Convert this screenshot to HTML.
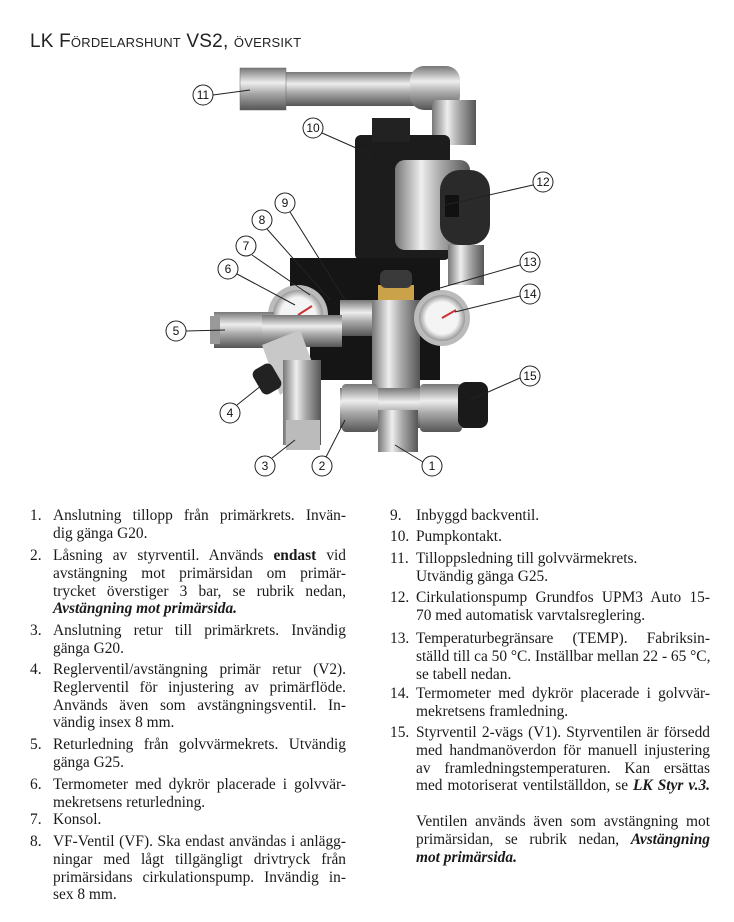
<!DOCTYPE html>
<html><head><meta charset="utf-8"><style>
body{margin:0;background:#fff;width:734px;height:922px;position:relative;overflow:hidden;font-family:"Liberation Serif",serif;color:#1a1a1a}
.t{position:absolute;left:30px;top:31px;font-family:"Liberation Sans",sans-serif;font-size:19px;font-variant:small-caps;letter-spacing:0.2px;color:#222}
.it{position:absolute;font-size:15.4px;line-height:17.8px}
.it .n{position:absolute;left:0;top:0}
.it .l{display:block;text-align:justify;text-align-last:justify;white-space:nowrap}
.it .l.e{text-align-last:left}
.L{left:30px}.L .b{margin-left:23px;width:293px}
.R{left:390px}.R .b{margin-left:26px;width:294px}
svg{position:absolute;left:0;top:0}
</style></head><body>
<div class="t">LK Fördelarshunt VS2, översikt</div>
<svg width="734" height="490" viewBox="0 0 734 490">
<defs>
<linearGradient id="hp" x1="0" y1="0" x2="0" y2="1"><stop offset="0" stop-color="#777"/><stop offset=".35" stop-color="#eee"/><stop offset=".6" stop-color="#aaa"/><stop offset="1" stop-color="#555"/></linearGradient>
<linearGradient id="vp" x1="0" y1="0" x2="1" y2="0"><stop offset="0" stop-color="#777"/><stop offset=".35" stop-color="#eee"/><stop offset=".6" stop-color="#aaa"/><stop offset="1" stop-color="#555"/></linearGradient>
<radialGradient id="ga"><stop offset=".7" stop-color="#f4f4f4"/><stop offset="1" stop-color="#999"/></radialGradient>
</defs>
<rect x="240" y="72" width="200" height="34" fill="url(#hp)"/>
<rect x="240" y="68" width="46" height="42" fill="url(#hp)" stroke="#666" stroke-width=".5"/>
<rect x="410" y="66" width="50" height="44" rx="14" fill="url(#hp)"/>
<rect x="432" y="100" width="44" height="45" fill="url(#vp)"/>
<rect x="355" y="135" width="95" height="125" rx="6" fill="#1c1c1c"/>
<rect x="372" y="118" width="38" height="24" fill="#222"/>
<rect x="395" y="160" width="75" height="90" rx="10" fill="url(#vp)"/>
<rect x="440" y="170" width="50" height="75" rx="20" fill="#2a2a2a"/>
<rect x="445" y="195" width="14" height="22" fill="#111"/>
<rect x="448" y="245" width="36" height="40" fill="url(#vp)"/>
<path d="M290 258 L440 258 L440 380 L310 380 L310 345 L290 345 Z" fill="#151515"/>
<rect x="378" y="285" width="36" height="20" fill="#c9a24a"/>
<rect x="380" y="270" width="32" height="18" rx="6" fill="#3a3a3a"/>
<rect x="340" y="300" width="120" height="36" fill="url(#hp)"/>
<rect x="372" y="300" width="48" height="100" fill="url(#vp)"/>
<circle cx="298" cy="315" r="30" fill="#bbb"/><circle cx="298" cy="315" r="25" fill="url(#ga)"/>
<line x1="298" y1="315" x2="312" y2="306" stroke="#c33" stroke-width="2"/>
<circle cx="442" cy="318" r="28" fill="#bbb"/><circle cx="442" cy="318" r="23" fill="url(#ga)"/>
<line x1="442" y1="318" x2="456" y2="310" stroke="#c33" stroke-width="2"/>
<rect x="214" y="312" width="60" height="36" fill="url(#hp)"/>
<rect x="210" y="316" width="10" height="28" fill="#999"/>
<rect x="262" y="315" width="80" height="32" fill="url(#hp)"/>
<path d="M262 345 L300 330 L315 370 L280 395 Z" fill="#c8c8c8"/>
<rect x="256" y="365" width="22" height="28" rx="6" fill="#222" transform="rotate(-30 267 379)"/>
<rect x="283" y="360" width="38" height="85" fill="url(#vp)"/>
<rect x="286" y="420" width="34" height="30" fill="#bbb"/>
<rect x="340" y="388" width="140" height="40" fill="url(#hp)"/>
<rect x="342" y="384" width="36" height="48" rx="4" fill="url(#hp)"/>
<rect x="420" y="384" width="42" height="48" rx="4" fill="url(#hp)"/>
<rect x="458" y="382" width="30" height="46" rx="8" fill="#1a1a1a"/>
<rect x="378" y="410" width="40" height="42" fill="url(#vp)"/>
<g stroke="#222" stroke-width="1" fill="none">
<line x1="213" y1="95" x2="250" y2="90"/>
<line x1="322" y1="133" x2="372" y2="155"/>
<line x1="533" y1="185" x2="445" y2="205"/>
<line x1="290" y1="212" x2="345" y2="300"/>
<line x1="267" y1="229" x2="330" y2="300"/>
<line x1="252" y1="255" x2="310" y2="295"/>
<line x1="237" y1="274" x2="295" y2="305"/>
<line x1="520" y1="265" x2="440" y2="288"/>
<line x1="520" y1="296" x2="455" y2="312"/>
<line x1="186" y1="331" x2="225" y2="330"/>
<line x1="520" y1="378" x2="470" y2="400"/>
<line x1="237" y1="405" x2="262" y2="385"/>
<line x1="272" y1="458" x2="295" y2="440"/>
<line x1="326" y1="457" x2="345" y2="420"/>
<line x1="423" y1="462" x2="395" y2="445"/>
</g>
<g font-family="Liberation Sans,sans-serif" font-size="12" text-anchor="middle" fill="#111">
<g stroke="#222" fill="#fff" stroke-width="1">
<circle cx="203" cy="95" r="10"/><circle cx="313" cy="128" r="10"/><circle cx="543" cy="182" r="10"/>
<circle cx="285" cy="203" r="10"/><circle cx="262" cy="220" r="10"/><circle cx="246" cy="246" r="10"/>
<circle cx="228" cy="269" r="10"/><circle cx="530" cy="262" r="10"/><circle cx="530" cy="294" r="10"/>
<circle cx="176" cy="331" r="10"/><circle cx="530" cy="376" r="10"/><circle cx="230" cy="413" r="10"/>
<circle cx="265" cy="466" r="10"/><circle cx="322" cy="466" r="10"/><circle cx="432" cy="466" r="10"/>
</g>
<text x="203" y="99">11</text><text x="313" y="132">10</text><text x="543" y="186">12</text>
<text x="285" y="207">9</text><text x="262" y="224">8</text><text x="246" y="250">7</text>
<text x="228" y="273">6</text><text x="530" y="266">13</text><text x="530" y="298">14</text>
<text x="176" y="335">5</text><text x="530" y="380">15</text><text x="230" y="417">4</text>
<text x="265" y="470">3</text><text x="322" y="470">2</text><text x="432" y="470">1</text>
</g>
</svg>

<div class="it L" style="top:507px"><span class="n">1.</span><div class="b"><span class="l">Anslutning tillopp från primärkrets. Invän-</span><span class="l e">dig gänga G20.</span></div></div>
<div class="it L" style="top:547px"><span class="n">2.</span><div class="b"><span class="l">Låsning av styrventil. Används <b>endast</b> vid</span><span class="l">avstängning mot primärsidan om primär-</span><span class="l">trycket överstiger 3 bar, se rubrik nedan,</span><span class="l e"><b><i>Avstängning mot primärsida.</i></b></span></div></div>
<div class="it L" style="top:622px"><span class="n">3.</span><div class="b"><span class="l">Anslutning retur till primärkrets. Invändig</span><span class="l e">gänga G20.</span></div></div>
<div class="it L" style="top:661px"><span class="n">4.</span><div class="b"><span class="l">Reglerventil/avstängning primär retur (V2).</span><span class="l">Reglerventil för injustering av primärflöde.</span><span class="l">Används även som avstängningsventil. In-</span><span class="l e">vändig insex 8 mm.</span></div></div>
<div class="it L" style="top:736px"><span class="n">5.</span><div class="b"><span class="l">Returledning från golvvärmekrets. Utvändig</span><span class="l e">gänga G25.</span></div></div>
<div class="it L" style="top:776px"><span class="n">6.</span><div class="b"><span class="l">Termometer med dykrör placerade i golvvär-</span><span class="l e">mekretsens returledning.</span></div></div>
<div class="it L" style="top:811px"><span class="n">7.</span><div class="b"><span class="l e">Konsol.</span></div></div>
<div class="it L" style="top:833px"><span class="n">8.</span><div class="b"><span class="l">VF-Ventil (VF). Ska endast användas i anlägg-</span><span class="l">ningar med lågt tillgängligt drivtryck från</span><span class="l">primärsidans cirkulationspump. Invändig in-</span><span class="l e">sex 8 mm.</span></div></div>

<div class="it R" style="top:507px"><span class="n">9.</span><div class="b"><span class="l e">Inbyggd backventil.</span></div></div>
<div class="it R" style="top:528px"><span class="n">10.</span><div class="b"><span class="l e">Pumpkontakt.</span></div></div>
<div class="it R" style="top:550px"><span class="n">11.</span><div class="b"><span class="l e">Tilloppsledning till golvvärmekrets.</span><span class="l e">Utvändig gänga G25.</span></div></div>
<div class="it R" style="top:589px"><span class="n">12.</span><div class="b"><span class="l">Cirkulationspump Grundfos UPM3 Auto 15-</span><span class="l e">70 med automatisk varvtalsreglering.</span></div></div>
<div class="it R" style="top:630px"><span class="n">13.</span><div class="b"><span class="l">Temperaturbegränsare (TEMP). Fabriksin-</span><span class="l">ställd till ca 50 °C. Inställbar mellan 22 - 65 °C,</span><span class="l e">se tabell nedan.</span></div></div>
<div class="it R" style="top:685px"><span class="n">14.</span><div class="b"><span class="l">Termometer med dykrör placerade i golvvär-</span><span class="l e">mekretsens framledning.</span></div></div>
<div class="it R" style="top:724px"><span class="n">15.</span><div class="b"><span class="l">Styrventil 2-vägs (V1). Styrventilen är försedd</span><span class="l">med handmanöverdon för manuell injustering</span><span class="l">av framledningstemperaturen. Kan ersättas</span><span class="l">med motoriserat ventilställdon, se <b><i>LK Styr v.3.</i></b></span></div></div>
<div class="it R" style="top:813px"><div class="b"><span class="l">Ventilen används även som avstängning mot</span><span class="l">primärsidan, se rubrik nedan, <b><i>Avstängning</i></b></span><span class="l e"><b><i>mot primärsida.</i></b></span></div></div>
</body></html>
